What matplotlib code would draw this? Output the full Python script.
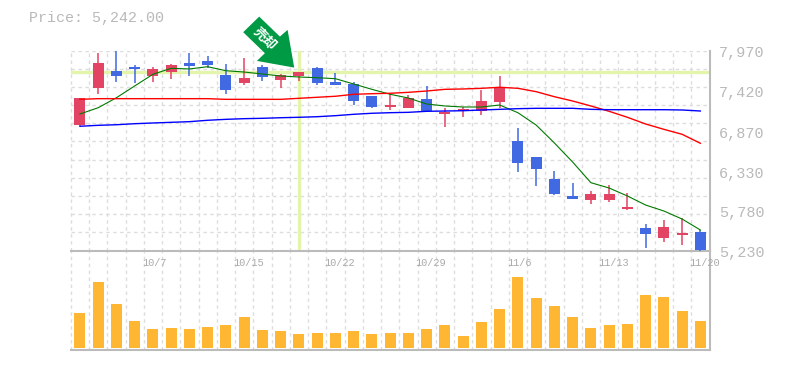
import matplotlib
matplotlib.use('Agg')
import matplotlib.pyplot as plt
from matplotlib.patches import Polygon
from matplotlib.transforms import Affine2D

plt.rcParams['font.family'] = ['Liberation Mono', 'DejaVu Sans Mono']

# 35 trading days
opens = [6949, 7460, 7689, 7744, 7621, 7675, 7799, 7826, 7634, 7525, 7744, 7566, 7621, 7730, 7538, 7511, 7347, 7196,
         7182, 7306, 7100, 7141, 7141, 7264, 6730, 6511, 6210, 5977, 5922, 5922, 5798, 5538, 5401, 5442, 5483]
closes = [7319, 7799, 7621, 7716, 7716, 7771, 7758, 7771, 7429, 7593, 7607, 7634, 7675, 7525, 7497, 7278, 7196, 7223,
          7319, 7141, 7127, 7169, 7278, 7470, 6429, 6346, 6004, 5936, 6004, 6004, 5826, 5456, 5552, 5470, 5242]
highs = [7319, 7936, 7970, 7771, 7744, 7785, 7936, 7894, 7785, 7867, 7771, 7648, 7675, 7744, 7662, 7538, 7347, 7388,
         7360, 7484, 7182, 7196, 7429, 7621, 6908, 6511, 6319, 6155, 6045, 6127, 6018, 5593, 5648, 5675, 5511]
lows = [6936, 7374, 7543, 7525, 7543, 7580, 7621, 7730, 7374, 7497, 7552, 7456, 7552, 7501, 7497, 7223, 7182, 7155,
        7182, 7141, 6922, 7059, 7086, 7182, 6305, 6114, 5990, 5936, 5867, 5895, 5785, 5264, 5346, 5305, 5230]

ma_short = [7100, 7186, 7323, 7484, 7644, 7726, 7717, 7748, 7693, 7675, 7648, 7621, 7607, 7597, 7584, 7511, 7438, 7370,
            7319, 7237, 7210, 7196, 7196, 7223, 7118, 6949, 6703, 6442, 6159, 6086, 5977, 5853, 5771, 5661, 5511]
ma_mid = [7301, 7310, 7310, 7310, 7310, 7310, 7310, 7310, 7301, 7301, 7301, 7301, 7315, 7329, 7343, 7370, 7378, 7384,
          7397, 7415, 7438, 7443, 7452, 7466, 7452, 7406, 7337, 7278, 7210, 7137, 7055, 6963, 6890, 6822, 6699]
ma_long = [6932, 6945, 6953, 6967, 6977, 6986, 6995, 7014, 7027, 7036, 7041, 7049, 7055, 7063, 7077, 7096, 7110, 7118,
           7123, 7137, 7141, 7145, 7155, 7164, 7173, 7178, 7178, 7178, 7164, 7159, 7159, 7159, 7159, 7155, 7141]

volumes = [35, 66, 44, 27, 19, 20, 19, 21, 23, 31, 18, 17, 14, 15, 15, 17, 14, 15,
           15, 19, 23, 12, 26, 39, 71, 50, 42, 31, 20, 23, 24, 53, 51, 37, 27]

price_ticks = [7970, 7422, 6874, 6326, 5778, 5230]
price_labels = ['7,970', '7,420', '6,870', '6,330', '5,780', '5,230']
date_pos = [4, 9, 14, 19, 24, 29, 34]
date_labels = ['10/7', '10/15', '10/22', '10/29', '11/6', '11/13', '11/20']

signal_day = 12
signal_price = 7670
current_price = '5,242.00'

W, H = 785, 370
RED = '#e34463'
BLUE = '#4169e1'
GRID = '#dddddd'
AXIS = '#bbbbbb'
TEXT = '#b9b9b9'
HILITE = '#e2f5ab'
days = list(range(len(opens)))


def box(left, top, right, bottom):
    return [left / W, 1 - bottom / H, (right - left) / W, (bottom - top) / H]


fig = plt.figure(figsize=(W / 100, H / 100), dpi=100)
ax = fig.add_axes(box(70.8, 50.5, 709.5, 250.5))
ax2 = fig.add_axes(box(70.8, 250.5, 709.5, 350))
# date labels hang under the price panel, so it has to stay on top
ax.set_zorder(2)
ax2.set_zorder(1)

ax.set_xlim(-0.5, 34.5)
ax.set_ylim(5230, 7970)
ax2.set_xlim(-0.5, 34.5)
ax2.set_ylim(-2, 97.5)

# grid lines sit between the days
grid_x = [d - 0.5 for d in days]
grid_y = [5230 + (7970 - 5230) * k / 11 for k in range(12)]
for a in (ax, ax2):
    for gx in grid_x:
        a.axvline(gx, color=GRID, lw=1, dashes=(2.5, 2.5), zorder=1, clip_on=False)
    a.set_xticks([])
    a.set_yticks([])
    for s in ['top', 'left']:
        a.spines[s].set_visible(False)
    for s in ['right', 'bottom']:
        a.spines[s].set_color(AXIS)
        a.spines[s].set_linewidth(1.5)
for gy in grid_y[1:]:
    ax.axhline(gy, color=GRID, lw=1, dashes=(2.5, 2.5), zorder=1)

# signal cross hair
ax.axhline(signal_price, color=HILITE, lw=2.4, zorder=2)
ax.axvline(signal_day, color=HILITE, lw=2.4, zorder=2)

# candles
for d, o, c, h, l in zip(days, opens, closes, highs, lows):
    col = RED if c >= o else BLUE
    ax.plot([d, d], [l, h], color=col, lw=1.1, zorder=3, solid_capstyle='butt')
    ax.bar(d, abs(c - o), bottom=min(o, c), width=0.6, color=col, zorder=3, linewidth=0)

ax.plot(days, ma_short, color='#007a00', lw=0.8, zorder=4)
ax.plot(days, ma_mid, color='#ff0000', lw=1, zorder=4)
ax.plot(days, ma_long, color='#0000ff', lw=1, zorder=4)

ax2.bar(days, volumes, width=0.6, color='#ffb733', linewidth=0, zorder=3)

# labels
for v, s in zip(price_ticks, price_labels):
    ax.annotate(s, xy=(1, v), xycoords=('axes fraction', 'data'), xytext=(9.5, -3), textcoords='offset pixels',
                ha='left', va='center', fontsize=10.9, color=TEXT, annotation_clip=False)
for d, s in zip(date_pos, date_labels):
    ax.annotate(s, xy=(d - 0.5, 5230), xycoords='data', xytext=(-2, -12), textcoords='offset pixels',
                ha='left', va='center', fontsize=7.4, color='#aaaaaa', annotation_clip=False)
fig.text(29 / W, 1 - 18 / H, 'Price: ' + current_price, fontsize=10.8, color=TEXT, ha='left', va='center')

# arrow, shape given in pixels relative to its tip
fig.canvas.draw()
tip_x, tip_y = ax.transData.transform((signal_day, signal_price))
to_tip = Affine2D().translate(tip_x - 4.7, tip_y + 4.8)
arrow_shape = [(0, 0), (-37.3, -6.7), (-29.3, -14.4), (-51, -35.4), (-35, -51), (-14.3, -31), (-6.6, -37.7)]
arrow_shape = [(x, -y) for x, y in arrow_shape]
fig.add_artist(Polygon(arrow_shape, closed=True, facecolor='#009944', edgecolor='none',
                       transform=to_tip, zorder=6))
fig.text(264.5 / W, 1 - 38.5 / H, '売却', rotation=-45, rotation_mode='anchor', fontsize=9.5, fontweight='bold',
         color='white', ha='center', va='center', family=['Noto Sans CJK JP', 'DejaVu Sans'], zorder=7)

fig.savefig('out.png', dpi=100)
